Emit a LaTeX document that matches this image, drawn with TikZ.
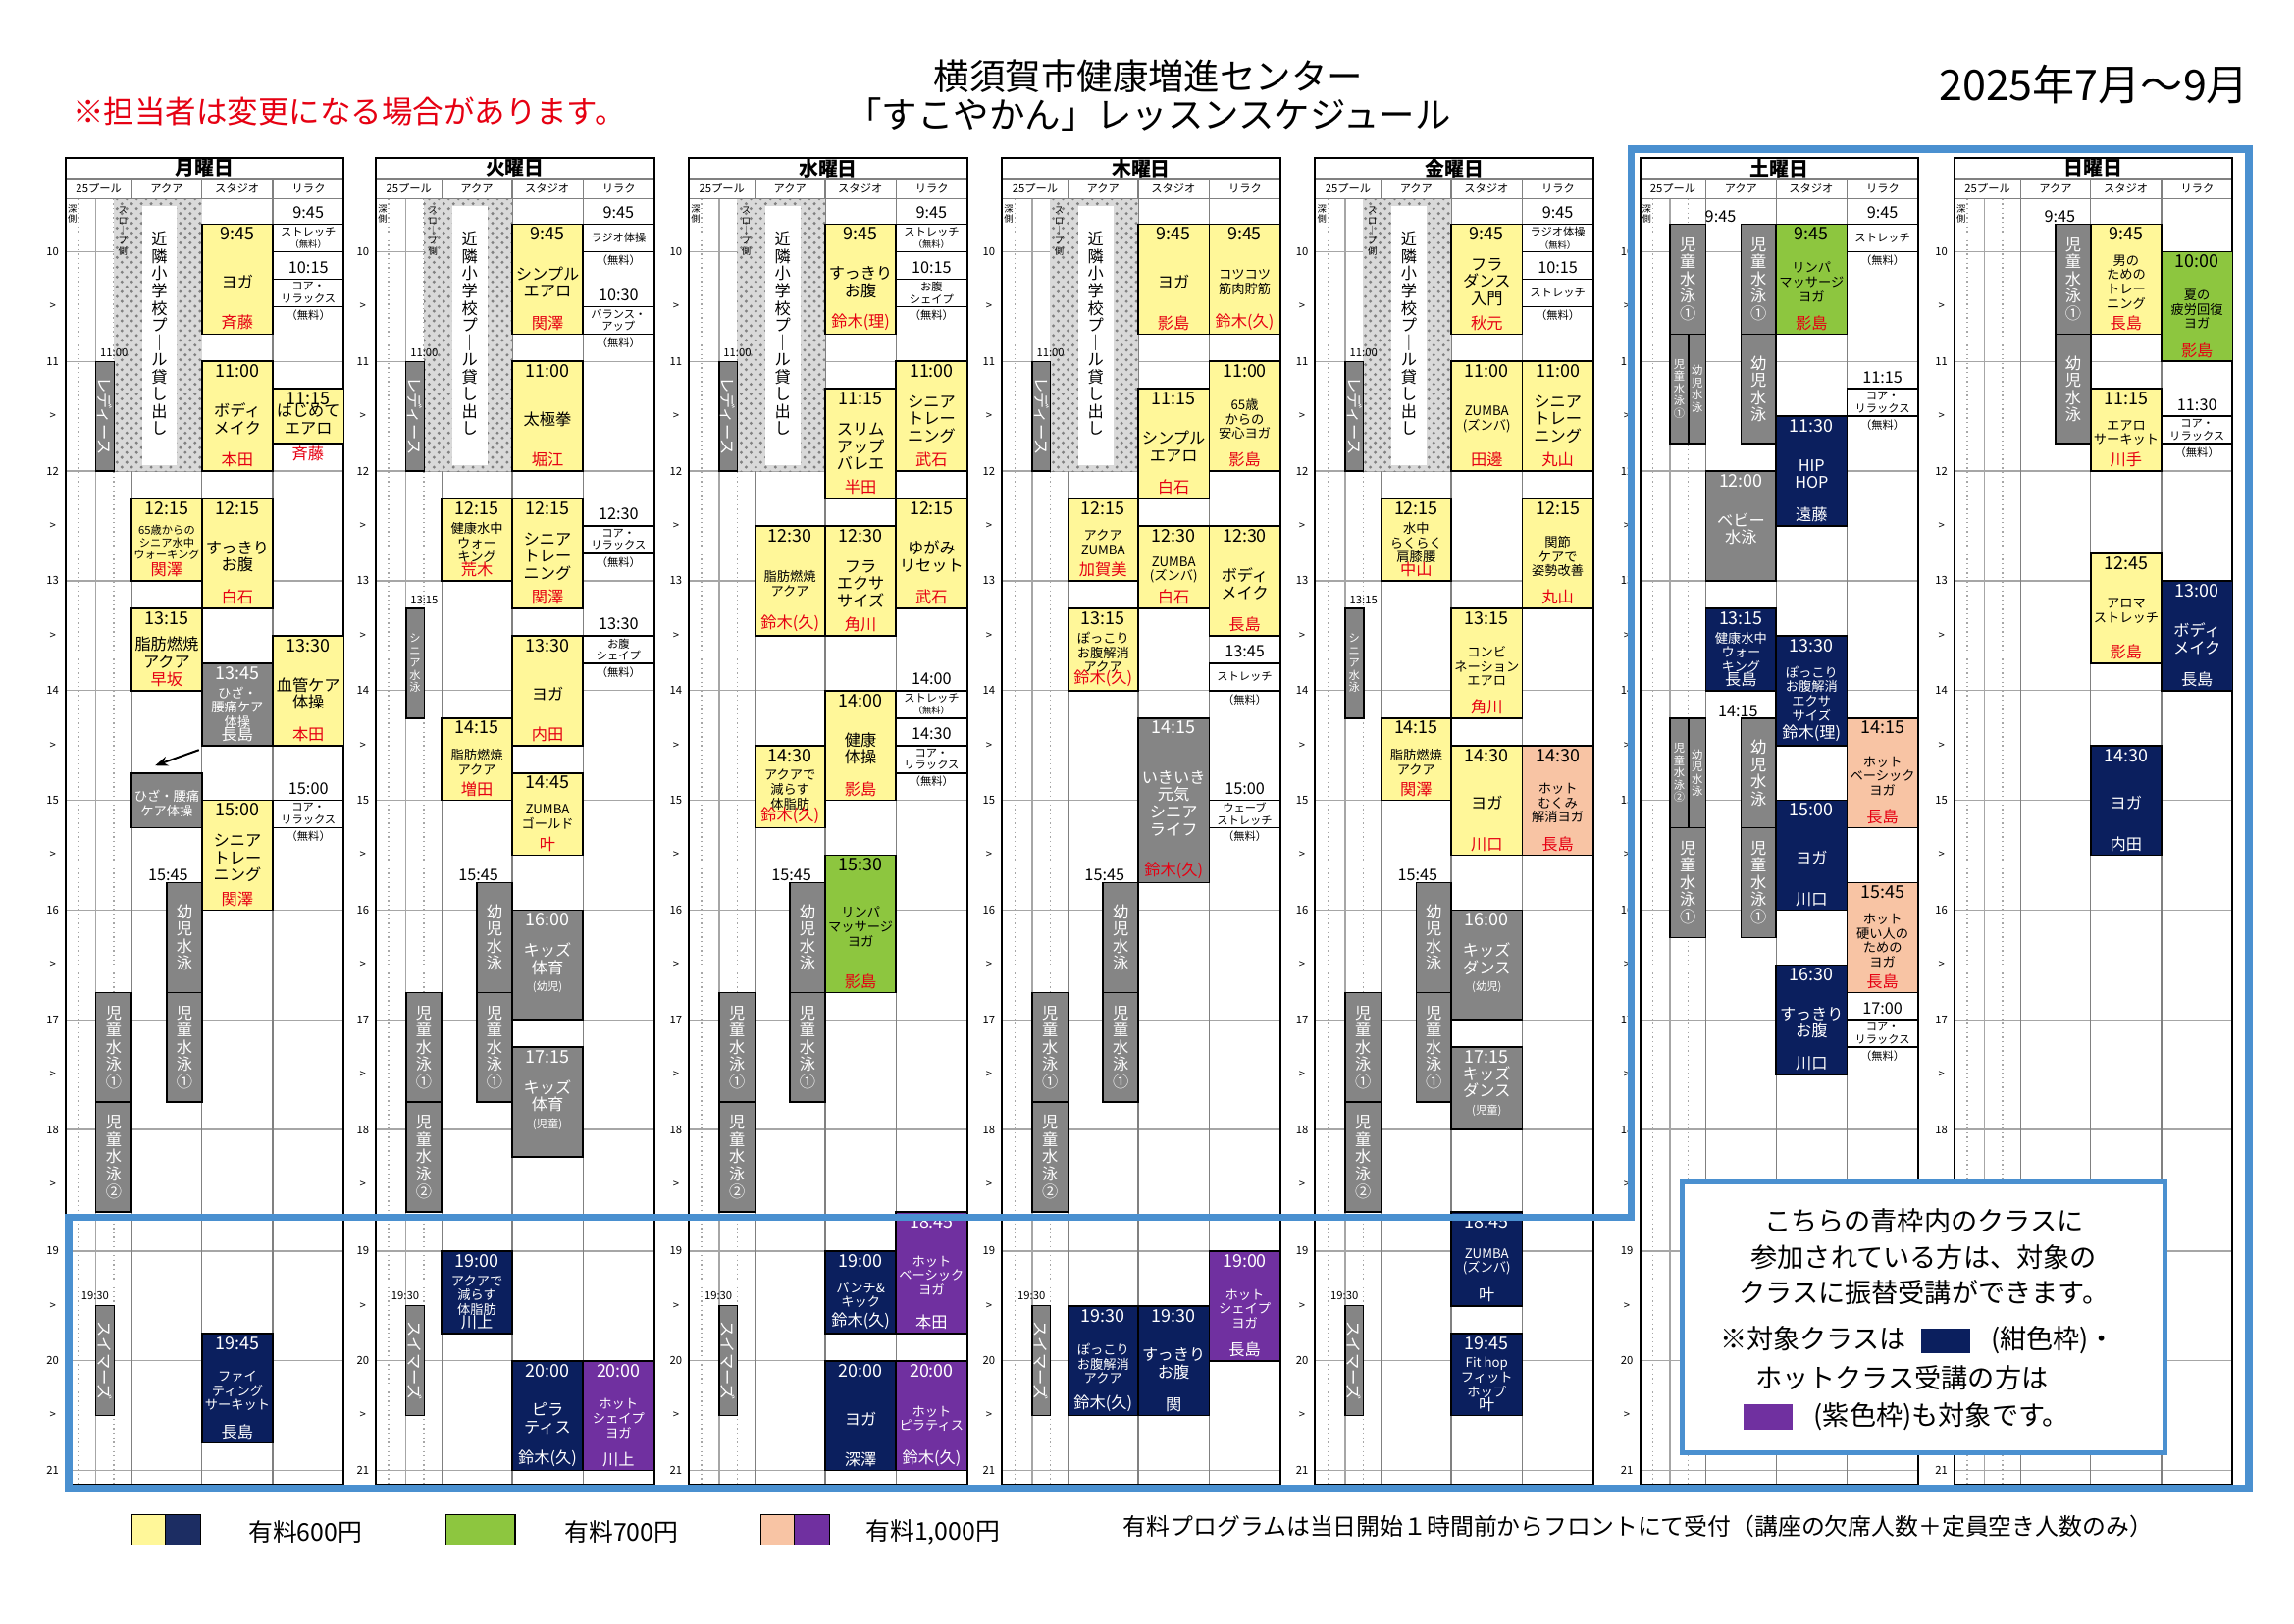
\documentclass[tikz,border=0pt]{standalone}
\usepackage{fontspec}
\setmainfont{Noto Sans CJK JP}
\usetikzlibrary{patterns,arrows.meta}
\definecolor{cyel}{HTML}{FFF799}
\definecolor{cgray}{HTML}{858585}
\definecolor{cnavy}{HTML}{0B1F5E}
\definecolor{cgreen}{HTML}{8DC63F}
\definecolor{csal}{HTML}{F8C4A4}
\definecolor{cpur}{HTML}{7030A0}
\definecolor{cblue}{HTML}{4A90D0}
\definecolor{cred}{HTML}{E60012}
\newcommand\fTm{\fontsize{5.4}{5.8}\selectfont}
\newcommand\fTi{\fontsize{4.9}{5.3}\selectfont}
\newcommand\fMd{\fontsize{4.0}{4.4}\selectfont}
\newcommand\fSm{\fontsize{3.4}{3.8}\selectfont}
\newcommand\fXs{\fontsize{2.8}{3.1}\selectfont}
\expandafter\def\csname F-y\endcsname{cyel}
\expandafter\def\csname F-g\endcsname{cgray}
\expandafter\def\csname F-n\endcsname{cnavy}
\expandafter\def\csname F-gr\endcsname{cgreen}
\expandafter\def\csname F-s\endcsname{csal}
\expandafter\def\csname F-p\endcsname{cpur}
\expandafter\def\csname T-y\endcsname{black}
\expandafter\def\csname T-g\endcsname{white}
\expandafter\def\csname T-n\endcsname{white}
\expandafter\def\csname T-gr\endcsname{black}
\expandafter\def\csname T-s\endcsname{black}
\expandafter\def\csname T-p\endcsname{white}
\expandafter\def\csname N-y\endcsname{cred}
\expandafter\def\csname N-g\endcsname{white}
\expandafter\def\csname N-n\endcsname{white}
\expandafter\def\csname N-gr\endcsname{cred}
\expandafter\def\csname N-s\endcsname{cred}
\expandafter\def\csname N-p\endcsname{white}
\newcounter{evc}
\newcommand\curtf{\fTi}
\pgfmathdeclarefunction{ty}{1}{\begingroup\pgfmathparse{#1<18.8 ? 172+75*(#1-10) : 855+75*(#1-19)}\pgfmathsmuggle\pgfmathresult\endgroup}
% kind, L, x1, x2, t1, t2, time, title, name
\newcommand\ev[9]{\stepcounter{evc}%
 \draw[fill=\csname F-#1\endcsname,draw=black,line width=0.5pt] ({#2+#3},{ty(#5)}) rectangle ({#2+#4},{ty(#6)});
 \node[anchor=north,inner sep=0.8pt,font=\fTm,text=\csname T-#1\endcsname] (t\theevc) at ({#2+(#3+#4)/2},{ty(#5)}) {#7};
 \node[align=center,inner sep=0pt,font=\curtf,text=\csname T-#1\endcsname] (m\theevc) at ({#2+(#3+#4)/2},{(ty(#5)+ty(#6))/2+2}) {#8};
 \node[anchor=south,inner sep=1pt,font=\fTi,text=\csname N-#1\endcsname] (n\theevc) at ({#2+(#3+#4)/2},{ty(#6)}) {#9};
 \gdef\curtf{\fTi}}
\newcommand\evs{\gdef\curtf{\fMd}\ev}
% vertical gray: L, x1, x2, t1, t2, text
\newcommand\vg[6]{\stepcounter{evc}%
 \draw[fill=cgray,draw=black,line width=0.5pt] ({#1+#2},{ty(#4)}) rectangle ({#1+#3},{ty(#5)});
 \node[align=center,inner sep=0pt,font=\curtf,text=white] (v\theevc) at ({#1+(#2+#3)/2},{(ty(#4)+ty(#5))/2}) {#6};
 \gdef\curtf{\fTi}}
\newcommand\vgs{\gdef\curtf{\fSm}\vg}
% free class: L, t, title, time
\newcommand\fr[4]{\stepcounter{evc}%
 \node[font=\fTi] (ft\theevc) at ({#1+165.75},{ty(#2)-8}) {#4};
 \draw[line width=0.5pt] ({#1+141.5},{ty(#2)}) rectangle ({#1+190},{ty(#2+0.25)});
 \node[font=\fSm,align=center,inner sep=0pt] (fm\theevc) at ({#1+165.75},{ty(#2+0.125)}) {#3};
 \node[font=\fSm] (fn\theevc) at ({#1+165.75},{ty(#2+0.25)+6}) {（無料）};}
% free class with (無料) inside the box
\newcommand\frin[4]{\stepcounter{evc}%
 \node[font=\fTi] (ft\theevc) at ({#1+165.75},{ty(#2)-8}) {#4};
 \draw[line width=0.5pt] ({#1+141.5},{ty(#2)}) rectangle ({#1+190},{ty(#2+0.25)});
 \node[font=\fSm,align=center,inner sep=0pt] (fm\theevc) at ({#1+165.75},{ty(#2+0.125)}) {#3\\{\fXs（無料）}};}
\begin{document}
\begin{tikzpicture}[x=0.45pt,y=-0.45pt]
\useasboundingbox (0,0) rectangle (1568,1109.3);
\fill[white] (0,0) rectangle (1568,1109.3);
% titles
\node[font=\fontsize{11}{12}\selectfont] (ttl1) at (785,52) {横須賀市健康増進センター};
\node[font=\fontsize{11}{12}\selectfont] (ttl2) at (785,78) {「すこやかん」レッスンスケジュール};
\node[font=\fontsize{9.5}{10}\selectfont,text=cred,anchor=west] (note) at (42,76) {※担当者は変更になる場合があります。};
\node[font=\fontsize{13}{14}\selectfont,anchor=east] (date) at (1545,58) {2025年7月～9月};
% day grids
\foreach \L/\D in {45/月,257/火,471/水,685/木,899/金,1121/土,1336/日}{
 \foreach \h in {10,...,21}{
  \draw[gray!70,line width=0.4pt] (\L,{ty(\h)}) -- ({\L+190},{ty(\h)});
  \node[font=\fSm] at ({\L-9},{ty(\h)}) {\h};}
 \foreach \h in {10,...,20}{\node[font=\fSm] at ({\L-9},{ty(\h+0.5)}) {>};}
 \draw[gray!70,densely dotted] ({\L+8.6},136) -- ({\L+8.6},1015);
 \draw[gray!70] ({\L+20.5},136) -- ({\L+20.5},1015);
 \draw[gray!70,densely dotted] ({\L+32.8},136) -- ({\L+32.8},1015);
 \draw[gray] ({\L+45},122) -- ({\L+45},1015);
 \draw[gray] ({\L+93},122) -- ({\L+93},1015);
 \draw[gray] ({\L+141.5},122) -- ({\L+141.5},1015);
 \draw[gray] (\L,122) -- ({\L+190},122);
 \draw[gray] (\L,136) -- ({\L+190},136);
 \draw[line width=0.6pt] (\L,108) rectangle ({\L+190},1015);
 \node[font=\fontsize{6}{6}\selectfont\bfseries] at ({\L+95},115) {\D 曜日};
 \node[font=\fSm] at ({\L+22.5},129) {25プール};
 \node[font=\fSm] at ({\L+69},129) {アクア};
 \node[font=\fSm] at ({\L+117},129) {スタジオ};
 \node[font=\fSm] at ({\L+166},129) {リラク};
 \node[font=\fXs,align=center] at ({\L+4.5},146) {深\\側};
}
% Mon-Fri common
\foreach \L in {45,257,471,685,899}{
 \fill[gray!30] ({\L+32.8},136) rectangle ({\L+93},{ty(12)});
 \fill[pattern=crosshatch dots,pattern color=gray] ({\L+32.8},136) rectangle ({\L+93},{ty(12)});
 \fill[white] ({\L+52},141) rectangle ({\L+76},318);
 \node[font=\fTi,align=center] at ({\L+64},228) {近\\隣\\小\\学\\校\\プ\\｜\\ル\\貸\\し\\出\\し};
 \node[font=\fXs,align=center] at ({\L+39},158) {ス\\ロ\\｜\\プ\\側};
 \node[font=\fSm] at ({\L+33},241) {11:00};
 \draw[fill=cgray] ({\L+20.5},{ty(11)}) rectangle ({\L+33},{ty(12)});
 \node[font=\fTi,text=white,rotate=-90] at ({\L+26.75},{ty(11.5)}) {レディース};
 \node[font=\fTi] at ({\L+70},598) {15:45};
 \vg{\L}{69}{93}{15.75}{16.75}{幼\\児\\水\\泳}
 \vg{\L}{69}{93}{16.75}{17.75}{児\\童\\水\\泳\\①}
 \vg{\L}{20.5}{45}{16.75}{17.75}{児\\童\\水\\泳\\①}
 \vg{\L}{20.5}{45}{17.75}{18.75}{児\\童\\水\\泳\\②}
 \node[font=\fSm] at ({\L+20},{ty(19.5)-7}) {19:30};
 \draw[fill=cgray] ({\L+20.5},{ty(19.5)}) rectangle ({\L+33},{ty(20.5)});
 \node[font=\fTi,text=white,rotate=-90] at ({\L+26.75},{ty(20)}) {スイマーズ};
}
% Monday
\ev{y}{45}{93}{141.5}{9.75}{10.75}{9:45}{ヨガ}{斉藤}
\frin{45}{9.75}{ストレッチ}{9:45}
\fr{45}{10.25}{コア・\\リラックス}{10:15}
\ev{y}{45}{93}{141.5}{11}{12}{11:00}{ボディ\\メイク}{本田}
\ev{y}{45}{141.5}{190}{11.25}{11.75}{11:15}{はじめて\\エアロ}{}
\node[font=\fTi,text=cred] (mon1) at (210.5,{ty(11.75)+7}) {斉藤};
\gdef\curtf{\fSm}\ev{y}{45}{45}{93}{12.25}{13}{12:15}{65歳からの\\シニア水中\\ウォーキング}{関澤}
\ev{y}{45}{93}{141.5}{12.25}{13.25}{12:15}{すっきり\\お腹}{白石}
\ev{y}{45}{45}{93}{13.25}{14}{13:15}{脂肪燃焼\\アクア}{早坂}
\ev{y}{45}{141.5}{190}{13.5}{14.5}{13:30}{血管ケア\\体操}{本田}
\evs{g}{45}{93}{141.5}{13.75}{14.5}{13:45}{ひざ・\\腰痛ケア\\体操}{長島}
\evs{g}{45}{45}{93}{14.75}{15.25}{}{ひざ・腰痛\\ケア体操}{}
\coordinate (arA) at (136,{ty(14.5)+3});
\coordinate (arB) at (106,{ty(14.75)-5});
\draw[-{Stealth[length=4pt]},line width=0.6pt] (arA) -- (arB);
\fr{45}{15}{コア・\\リラックス}{15:00}
\ev{y}{45}{93}{141.5}{15}{16}{15:00}{シニア\\トレー\\ニング}{関澤}
\evs{n}{45}{93}{141.5}{19.75}{20.75}{19:45}{ファイ\\ティング\\サーキット}{長島}
% Tuesday
\ev{y}{257}{93}{141.5}{9.75}{10.75}{9:45}{シンプル\\エアロ}{関澤}
\fr{257}{9.75}{ラジオ体操}{9:45}
\fr{257}{10.5}{バランス・\\アップ}{10:30}
\ev{y}{257}{93}{141.5}{11}{12}{11:00}{太極拳}{堀江}
\evs{y}{257}{45}{93}{12.25}{13}{12:15}{健康水中\\ウォー\\キング}{荒木}
\ev{y}{257}{93}{141.5}{12.25}{13.25}{12:15}{シニア\\トレー\\ニング}{関澤}
\fr{257}{12.5}{コア・\\リラックス}{12:30}
\fr{257}{13.5}{お腹\\シェイプ}{13:30}
\node[font=\fSm] (tue1) at (290,410) {13:15};
\vgs{257}{20.5}{33}{13.25}{14.25}{シ\\ニ\\ア\\水\\泳}
\ev{y}{257}{93}{141.5}{13.5}{14.5}{13:30}{ヨガ}{内田}
\evs{y}{257}{45}{93}{14.25}{15}{14:15}{脂肪燃焼\\アクア}{増田}
\evs{y}{257}{93}{141.5}{14.75}{15.5}{14:45}{ZUMBA\\ゴールド}{叶}
\ev{g}{257}{93}{141.5}{16}{17}{16:00}{キッズ\\体育\\{\fSm(幼児)}}{}
\ev{g}{257}{93}{141.5}{17.25}{18.25}{17:15}{キッズ\\体育\\{\fSm(児童)}}{}
\evs{n}{257}{45}{93}{19}{19.75}{19:00}{アクアで\\減らす\\体脂肪}{川上}
\ev{n}{257}{93}{141.5}{20}{21}{20:00}{ピラ\\ティス}{鈴木(久)}
\evs{p}{257}{141.5}{190}{20}{21}{20:00}{ホット\\シェイプ\\ヨガ}{川上}
% Wednesday
\ev{y}{471}{93}{141.5}{9.75}{10.75}{9:45}{すっきり\\お腹}{鈴木(理)}
\frin{471}{9.75}{ストレッチ}{9:45}
\fr{471}{10.25}{お腹\\シェイプ}{10:15}
\ev{y}{471}{93}{141.5}{11.25}{12.25}{11:15}{スリム\\アップ\\バレエ}{半田}
\ev{y}{471}{141.5}{190}{11}{12}{11:00}{シニア\\トレー\\ニング}{武石}
\evs{y}{471}{45}{93}{12.5}{13.5}{12:30}{脂肪燃焼\\アクア}{鈴木(久)}
\ev{y}{471}{93}{141.5}{12.5}{13.5}{12:30}{フラ\\エクサ\\サイズ}{角川}
\ev{y}{471}{141.5}{190}{12.25}{13.25}{12:15}{ゆがみ\\リセット}{武石}
\ev{y}{471}{93}{141.5}{14}{15}{14:00}{健康\\体操}{影島}
\frin{471}{14}{ストレッチ}{14:00}
\fr{471}{14.5}{コア・\\リラックス}{14:30}
\evs{y}{471}{45}{93}{14.5}{15.25}{14:30}{アクアで\\減らす\\体脂肪}{鈴木(久)}
\evs{gr}{471}{93}{141.5}{15.5}{16.75}{15:30}{リンパ\\マッサージ\\ヨガ}{影島}
\evs{n}{471}{93}{141.5}{19}{19.75}{19:00}{パンチ\&\\キック}{鈴木(久)}
\evs{p}{471}{141.5}{190}{18.75}{19.75}{18:45}{ホット\\ベーシック\\ヨガ}{本田}
\ev{n}{471}{93}{141.5}{20}{21}{20:00}{ヨガ}{深澤}
\evs{p}{471}{141.5}{190}{20}{21}{20:00}{ホット\\ピラティス}{鈴木(久)}
% Thursday
\ev{y}{685}{93}{141.5}{9.75}{10.75}{9:45}{ヨガ}{影島}
\evs{y}{685}{141.5}{190}{9.75}{10.75}{9:45}{コツコツ\\筋肉貯筋}{鈴木(久)}
\ev{y}{685}{93}{141.5}{11.25}{12.25}{11:15}{シンプル\\エアロ}{白石}
\evs{y}{685}{141.5}{190}{11}{12}{11:00}{65歳\\からの\\安心ヨガ}{影島}
\evs{y}{685}{45}{93}{12.25}{13}{12:15}{アクア\\ZUMBA}{加賀美}
\evs{y}{685}{93}{141.5}{12.5}{13.25}{12:30}{ZUMBA\\(ズンバ)}{白石}
\ev{y}{685}{141.5}{190}{12.5}{13.5}{12:30}{ボディ\\メイク}{長島}
\evs{y}{685}{45}{93}{13.25}{14}{13:15}{ぽっこり\\お腹解消\\アクア}{鈴木(久)}
\fr{685}{13.75}{ストレッチ}{13:45}
\ev{g}{685}{93}{141.5}{14.25}{15.75}{14:15}{いきいき\\元気\\シニア\\ライフ}{\textcolor{cred}{鈴木(久)}}
\fr{685}{15}{ウェーブ\\ストレッチ}{15:00}
\evs{n}{685}{45}{93}{19.5}{20.5}{19:30}{ぽっこり\\お腹解消\\アクア}{鈴木(久)}
\ev{n}{685}{93}{141.5}{19.5}{20.5}{19:30}{すっきり\\お腹}{関}
\evs{p}{685}{141.5}{190}{19}{20}{19:00}{ホット\\シェイプ\\ヨガ}{長島}
% Friday
\ev{y}{899}{93}{141.5}{9.75}{10.75}{9:45}{フラ\\ダンス\\入門}{秋元}
\frin{899}{9.75}{ラジオ体操}{9:45}
\fr{899}{10.25}{ストレッチ}{10:15}
\evs{y}{899}{93}{141.5}{11}{12}{11:00}{ZUMBA\\(ズンバ)}{田邊}
\ev{y}{899}{141.5}{190}{11}{12}{11:00}{シニア\\トレー\\ニング}{丸山}
\evs{y}{899}{45}{93}{12.25}{13}{12:15}{水中\\らくらく\\肩膝腰}{中山}
\evs{y}{899}{141.5}{190}{12.25}{13.25}{12:15}{関節\\ケアで\\姿勢改善}{丸山}
\node[font=\fSm] (fri1) at (932,410) {13:15};
\vgs{899}{20.5}{33}{13.25}{14.25}{シ\\ニ\\ア\\水\\泳}
\evs{y}{899}{93}{141.5}{13.25}{14.25}{13:15}{コンビ\\ネーション\\エアロ}{角川}
\evs{y}{899}{45}{93}{14.25}{15}{14:15}{脂肪燃焼\\アクア}{関澤}
\ev{y}{899}{93}{141.5}{14.5}{15.5}{14:30}{ヨガ}{川口}
\evs{s}{899}{141.5}{190}{14.5}{15.5}{14:30}{ホット\\むくみ\\解消ヨガ}{長島}
\ev{g}{899}{93}{141.5}{16}{17}{16:00}{キッズ\\ダンス\\{\fSm(幼児)}}{}
\ev{g}{899}{93}{141.5}{17.25}{18}{17:15}{キッズ\\ダンス\\{\fSm(児童)}}{}
\evs{n}{899}{93}{141.5}{18.75}{19.5}{18:45}{ZUMBA\\(ズンバ)}{叶}
\evs{n}{899}{93}{141.5}{19.75}{20.5}{19:45}{Fit hop\\フィット\\ホップ}{叶}
% Saturday
\node[font=\fTi] (sat1) at (1176,148) {9:45};
\vg{1121}{20.5}{45}{9.75}{10.75}{児\\童\\水\\泳\\①}
\vgs{1121}{20.5}{33}{10.75}{11.75}{児\\童\\水\\泳\\①}
\vgs{1121}{33}{45}{10.75}{11.75}{幼\\児\\水\\泳}
\vg{1121}{69}{93}{9.75}{10.75}{児\\童\\水\\泳\\①}
\vg{1121}{69}{93}{10.75}{11.75}{幼\\児\\水\\泳}
\node[font=\fTi] (sat2) at (1188,486) {14:15};
\vgs{1121}{20.5}{33}{14.25}{15.25}{児\\童\\水\\泳\\②}
\vgs{1121}{33}{45}{14.25}{15.25}{幼\\児\\水\\泳}
\vg{1121}{20.5}{45}{15.25}{16.25}{児\\童\\水\\泳\\①}
\vg{1121}{69}{93}{14.25}{15.25}{幼\\児\\水\\泳}
\vg{1121}{69}{93}{15.25}{16.25}{児\\童\\水\\泳\\①}
\evs{gr}{1121}{93}{141.5}{9.75}{10.75}{9:45}{リンパ\\マッサージ\\ヨガ}{影島}
\fr{1121}{9.75}{ストレッチ}{9:45}
\fr{1121}{11.25}{コア・\\リラックス}{11:15}
\ev{n}{1121}{93}{141.5}{11.5}{12.5}{11:30}{HIP\\HOP}{遠藤}
\ev{g}{1121}{45}{93}{12}{13}{12:00}{ベビー\\水泳}{}
\evs{n}{1121}{45}{93}{13.25}{14}{13:15}{健康水中\\ウォー\\キング}{長島}
\evs{n}{1121}{93}{141.5}{13.5}{14.5}{13:30}{ぽっこり\\お腹解消\\エクサ\\サイズ}{鈴木(理)}
\evs{s}{1121}{141.5}{190}{14.25}{15.25}{14:15}{ホット\\ベーシック\\ヨガ}{長島}
\ev{n}{1121}{93}{141.5}{15}{16}{15:00}{ヨガ}{川口}
\evs{s}{1121}{141.5}{190}{15.75}{16.75}{15:45}{ホット\\硬い人の\\ための\\ヨガ}{長島}
\ev{n}{1121}{93}{141.5}{16.5}{17.5}{16:30}{すっきり\\お腹}{川口}
\fr{1121}{17}{コア・\\リラックス}{17:00}
% Sunday
\node[font=\fTi] (sun1) at (1408,148) {9:45};
\vg{1336}{69}{93}{9.75}{10.75}{児\\童\\水\\泳\\①}
\vg{1336}{69}{93}{10.75}{11.75}{幼\\児\\水\\泳}
\evs{y}{1336}{93}{141.5}{9.75}{10.75}{9:45}{男の\\ための\\トレー\\ニング}{長島}
\evs{gr}{1336}{141.5}{190}{10}{11}{10:00}{夏の\\疲労回復\\ヨガ}{影島}
\evs{y}{1336}{93}{141.5}{11.25}{12}{11:15}{エアロ\\サーキット}{川手}
\fr{1336}{11.5}{コア・\\リラックス}{11:30}
\evs{y}{1336}{93}{141.5}{12.75}{13.75}{12:45}{アロマ\\ストレッチ}{影島}
\ev{n}{1336}{141.5}{190}{13}{14}{13:00}{ボディ\\メイク}{長島}
\ev{n}{1336}{93}{141.5}{14.5}{15.5}{14:30}{ヨガ}{内田}
% blue frame
\draw[cblue,line width=2.3pt,line join=miter] (47,832) -- (1115,832) -- (1115,102) -- (1537,102) -- (1537,1017) -- (47,1017) -- cycle;
% info box
\node[draw=cblue,line width=1.6pt,fill=white,minimum width=330*0.45pt,minimum height=185*0.45pt] (info) at (1315,900.5) {};
\node[font=\fontsize{8.2}{11}\selectfont,align=center] (inf1) at (1315,859) {こちらの青枠内のクラスに\\参加されている方は、対象の\\クラスに振替受講ができます。};
\node[font=\fontsize{8.2}{9}\selectfont,anchor=west] (inf2) at (1168,916) {※対象クラスは\hspace{26pt}(紺色枠)・};
\fill[cnavy] (1313,908) rectangle (1347,925);
\node[font=\fontsize{8.2}{9}\selectfont,anchor=west] (inf3) at (1192,942) {ホットクラス受講の方は};
\fill[cpur] (1192,960) rectangle (1225,977);
\node[font=\fontsize{8.2}{9}\selectfont,anchor=west] (inf4) at (1232,968) {(紫色枠)も対象です。};
% legend
\draw[fill=cyel] (90,1035) rectangle (113,1056);
\draw[fill=cnavy!85!gray] (113,1035) rectangle (137,1056);
\node[font=\fontsize{7.5}{8}\selectfont,anchor=west] (lg1) at (162,1047) {有料600円};
\draw[fill=cgreen] (305,1035) rectangle (352,1056);
\node[font=\fontsize{7.5}{8}\selectfont,anchor=west] (lg2) at (378,1047) {有料700円};
\draw[fill=csal] (520,1035) rectangle (543,1056);
\draw[fill=cpur] (543,1035) rectangle (567,1056);
\node[font=\fontsize{7.5}{8}\selectfont,anchor=west] (lg3) at (584,1047) {有料1,000円};
\node[font=\fontsize{7.2}{8}\selectfont,anchor=west] (lg4) at (760,1043) {有料プログラムは当日開始１時間前からフロントにて受付（講座の欠席人数＋定員空き人数のみ）};
\end{tikzpicture}
\end{document}
